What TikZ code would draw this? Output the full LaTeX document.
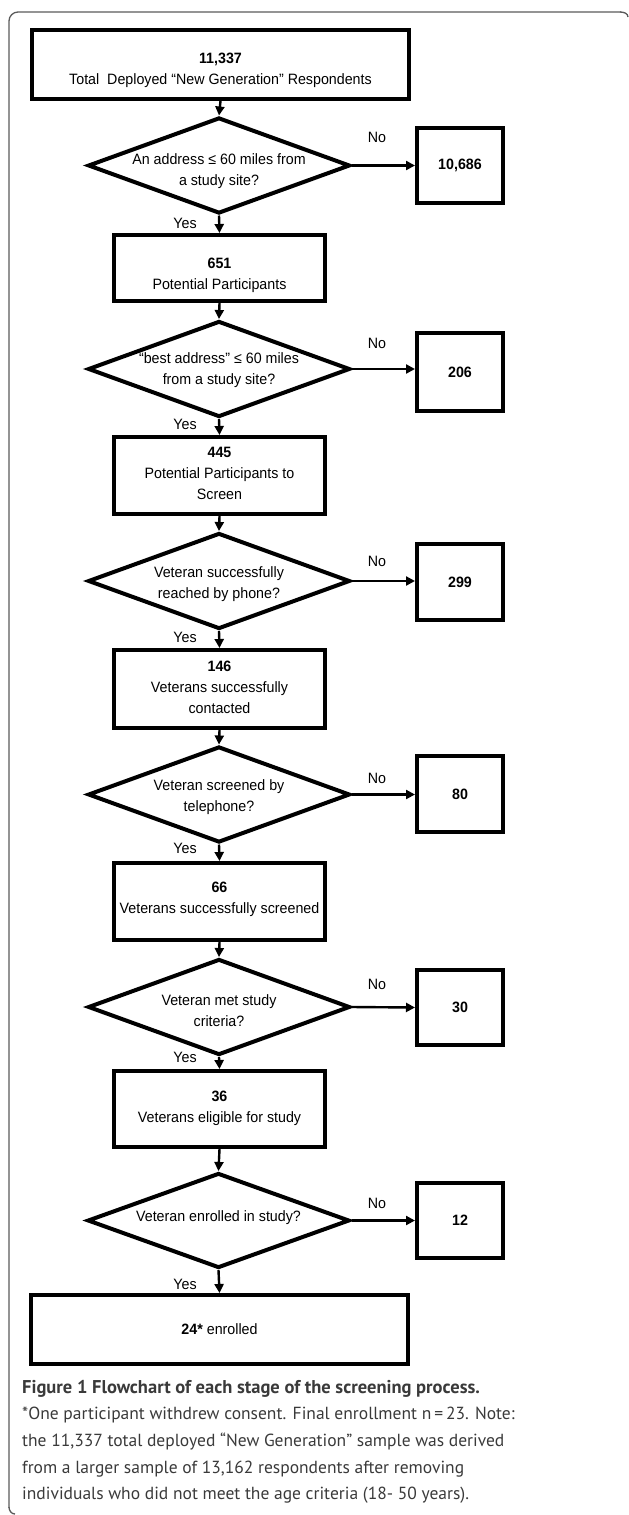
\documentclass[tikz,border=0pt]{standalone}
\usepackage{fontspec}
\setmainfont{Liberation Sans}
\newfontfamily\chartfont[FakeStretch=0.95]{Liberation Sans}
\newfontfamily\capfont{PT Sans}
\usetikzlibrary{shapes.geometric,arrows.meta}
\definecolor{capgray}{HTML}{3A3A3A}
\definecolor{framegray}{HTML}{5A5A5A}
\begin{document}
\begin{tikzpicture}[x=1pt,y=-1pt,
  txt/.style={align=center,inner sep=0pt,font=\chartfont\fontsize{15}{21}\selectfont},
  box/.style={draw,line width=4pt,rectangle,inner sep=0pt},
  dec/.style={draw,line width=4pt,diamond,inner sep=0pt,minimum width=262pt,minimum height=96pt},
  side/.style={box,minimum width=86pt,minimum height=76pt},
  arr/.style={line width=2.4pt,-{Triangle[length=9pt,width=9pt]}},
  lab/.style={txt},
  captxt/.style={anchor=base west,inner sep=0pt,text=capgray,font=\capfont\fontsize{17.5}{27}\selectfont}
]
\useasboundingbox (0,0) rectangle (629,1515);
% frame
\draw[framegray,line width=1.3pt,rounded corners=9pt] (621,12) -- (9,12) -- (9,1508);
\draw[framegray,line width=1.3pt] (620,12) to[out=0,in=90] (628,17);
\draw[framegray,line width=1.3pt] (9,1507) to[out=-90,in=180] (15,1514);

% main column
\node[box,minimum width=377pt,minimum height=69pt,
  label={[txt,yshift=-6pt]center:{\textbf{11,337}\\Total\ \ Deployed “New Generation” Respondents}}] (b1) at (220.5,64.5) {};
\node[dec,label={[txt,yshift=-6pt]center:{An address ≤ 60 miles from\\a study site?}}] (d1) at (219,165.5) {};
\node[box,minimum width=211pt,minimum height=66pt,
  label={[txt,yshift=-7pt]center:{\textbf{651}\\Potential Participants}}] (b2) at (219.5,268) {};
\node[dec,label={[txt,yshift=-1pt]center:{“best address” ≤ 60 miles\\from a study site?}}] (d2) at (219,369) {};
\node[box,minimum width=211pt,minimum height=77pt,
  label={[txt,yshift=2pt]center:{\textbf{445}\\Potential Participants to\\Screen}}] (b3) at (219.5,475.5) {};
\node[dec,label={[txt,yshift=-3pt]center:{Veteran successfully\\reached by phone?}}] (d3) at (219,581) {};
\node[box,minimum width=211pt,minimum height=78pt,
  label={[txt,yshift=2pt]center:{\textbf{146}\\Veterans successfully\\contacted}}] (b4) at (219.5,689) {};
\node[dec,label={[txt,yshift=-3pt]center:{Veteran screened by\\telephone?}}] (d4) at (219,794.5) {};
\node[box,minimum width=211pt,minimum height=77pt,
  label={[txt,yshift=2pt]center:{\textbf{66}\\Veterans successfully screened}}] (b5) at (219.5,901.5) {};
\node[dec,label={[txt,yshift=-4pt]center:{Veteran met study\\criteria?}}] (d5) at (219,1007) {};
\node[box,minimum width=211pt,minimum height=76pt,
  label={[txt,yshift=1pt]center:{\textbf{36}\\Veterans eligible for study}}] (b6) at (219.5,1109) {};
\node[dec,minimum height=95pt,label={[txt,yshift=3pt]center:{Veteran enrolled in study?}}] (d6) at (218.5,1220.5) {};
\node[box,minimum width=377pt,minimum height=69pt,
  label={[txt]center:{\textbf{24*} enrolled}}] (b7) at (219.5,1329.5) {};

% side boxes
\node[side,minimum height=75pt,label={[txt]center:{\textbf{10,686}}}] (n1) at (460,165.5) {};
\node[side,minimum height=78pt,label={[txt]center:{\textbf{206}}}] (n2) at (460,372) {};
\node[side,label={[txt]center:{\textbf{299}}}] (n3) at (460,582) {};
\node[side,label={[txt]center:{\textbf{80}}}] (n4) at (460,794) {};
\node[side,minimum height=75pt,label={[txt]center:{\textbf{30}}}] (n5) at (460,1007.5) {};
\node[side,minimum height=75pt,label={[txt]center:{\textbf{12}}}] (n6) at (460,1220.5) {};

% vertical arrows
\draw[arr] (b1.south) -- (d1.north);
\draw[arr] (d1.south) -- (b2.north);
\draw[arr] (b2.south) -- (d2.north);
\draw[arr] (d2.south) -- (b3.north);
\draw[arr] (b3.south) -- (d3.north);
\draw[arr] (d3.south) -- (b4.north);
\draw[arr] (b4.south) -- (d4.north);
\draw[arr] (d4.south) -- (b5.north);
\draw[arr] (b5.south) -- (d5.north);
\draw[arr] (d5.south) -- (b6.north);
\draw[arr] (b6.south) -- (d6.north);
\draw[arr] (d6.south) -- (b7.north);

% horizontal arrows
\draw[arr] (d1.east) -- (n1.west);
\draw[arr] (d2.east) -- (d2.east -| n2.west);
\draw[arr] (d3.east) -- (d3.east -| n3.west);
\draw[arr] (d4.east) -- (d4.east -| n4.west);
\draw[arr] (d5.east) -- (n5.west);
\draw[arr] (d6.east) -- (n6.west);

% labels
\node[lab] (no1) at (377,137) {No};
\node[lab] (no2) at (377,343) {No};
\node[lab] (no3) at (377,561) {No};
\node[lab] (no4) at (377,778) {No};
\node[lab] (no5) at (377,984) {No};
\node[lab] (no6) at (377,1203) {No};
\node[lab] (y1) at (185,223) {Yes};
\node[lab] (y2) at (185,424) {Yes};
\node[lab] (y3) at (185,637) {Yes};
\node[lab] (y4) at (185,848) {Yes};
\node[lab] (y5) at (185,1057) {Yes};
\node[lab] (y6) at (185,1284) {Yes};

% caption
\node[captxt,font=\capfont\bfseries\fontsize{18.5}{27}\selectfont] (c1) at (22,1393) {Figure 1 Flowchart of each stage of the screening process.};
\node[captxt] (c2) at (22,1419) {*One participant withdrew consent. Final enrollment n\,=\,23. Note:};
\node[captxt] (c3) at (22,1446) {the 11,337 total deployed “New Generation” sample was derived};
\node[captxt] (c4) at (22,1473) {from a larger sample of 13,162 respondents after removing};
\node[captxt] (c5) at (22,1499) {individuals who did not meet the age criteria (18- 50 years).};
\end{tikzpicture}
\end{document}
